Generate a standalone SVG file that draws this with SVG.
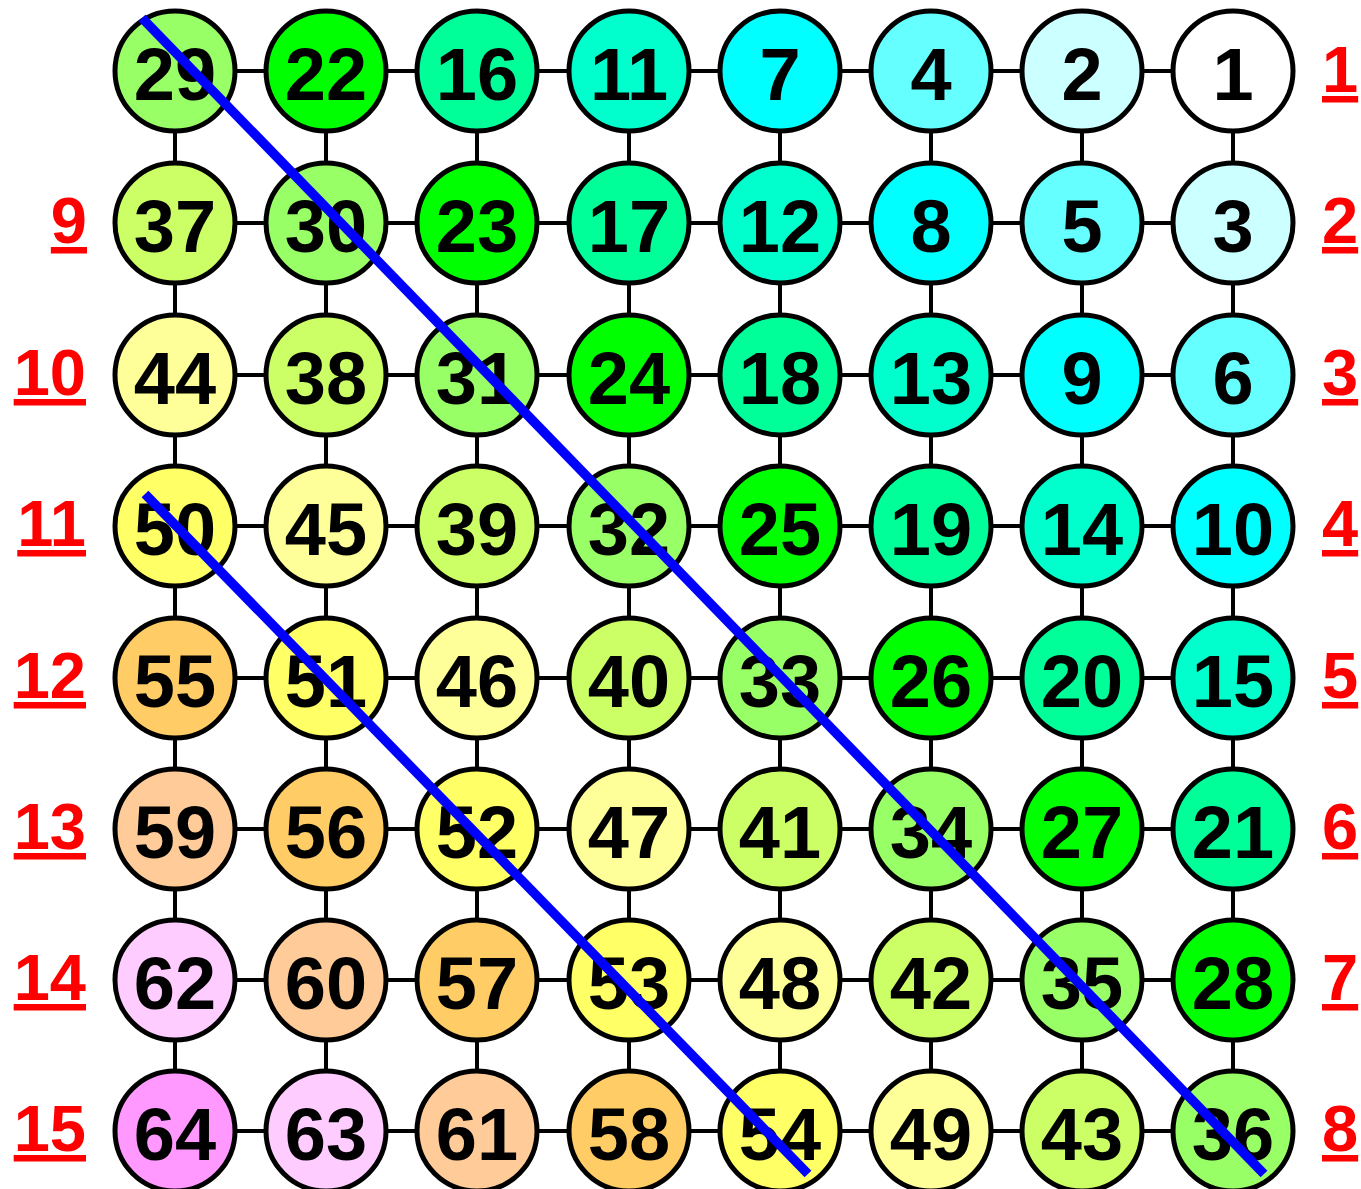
<svg xmlns="http://www.w3.org/2000/svg" width="1361" height="1189" viewBox="0 0 1361 1189">
<style>
.n circle{stroke:#000;stroke-width:5}
.n text{font-family:"Liberation Sans",Arial,sans-serif;font-weight:bold;font-size:74px;text-anchor:middle;fill:#000}
.e line{stroke:#000;stroke-width:4}
.lbl{font-family:"Liberation Sans",Arial,sans-serif;font-weight:bold;font-size:65px;fill:#f00;text-decoration:underline}
.l{text-anchor:end}
.diag{stroke:#00f;stroke-width:9.5;fill:none}
</style>
<rect width="1361" height="1189" fill="#fff"/>
<g id="connectors" class="e">
<line x1="175" y1="71" x2="1233" y2="71"/>
<line x1="175" y1="223" x2="1233" y2="223"/>
<line x1="175" y1="375" x2="1233" y2="375"/>
<line x1="175" y1="526" x2="1233" y2="526"/>
<line x1="175" y1="678" x2="1233" y2="678"/>
<line x1="175" y1="829" x2="1233" y2="829"/>
<line x1="175" y1="980" x2="1233" y2="980"/>
<line x1="175" y1="1131" x2="1233" y2="1131"/>
<line x1="175" y1="71" x2="175" y2="1131"/>
<line x1="326" y1="71" x2="326" y2="1131"/>
<line x1="477" y1="71" x2="477" y2="1131"/>
<line x1="629" y1="71" x2="629" y2="1131"/>
<line x1="780" y1="71" x2="780" y2="1131"/>
<line x1="931" y1="71" x2="931" y2="1131"/>
<line x1="1082" y1="71" x2="1082" y2="1131"/>
<line x1="1233" y1="71" x2="1233" y2="1131"/>
</g>
<g id="nodes">
<g id="n29" class="n"><circle cx="175" cy="71" r="60" fill="#99FF66"/><text x="175" y="100">29</text></g>
<g id="n22" class="n"><circle cx="326" cy="71" r="60" fill="#00FF00"/><text x="326" y="100">22</text></g>
<g id="n16" class="n"><circle cx="477" cy="71" r="60" fill="#00FF99"/><text x="477" y="100">16</text></g>
<g id="n11" class="n"><circle cx="629" cy="71" r="60" fill="#00FFCC"/><text x="629" y="100">11</text></g>
<g id="n7" class="n"><circle cx="780" cy="71" r="60" fill="#00FFFF"/><text x="780" y="100">7</text></g>
<g id="n4" class="n"><circle cx="931" cy="71" r="60" fill="#66FFFF"/><text x="931" y="100">4</text></g>
<g id="n2" class="n"><circle cx="1082" cy="71" r="60" fill="#CCFFFF"/><text x="1082" y="100">2</text></g>
<g id="n1" class="n"><circle cx="1233" cy="71" r="60" fill="#FFFFFF"/><text x="1233" y="100">1</text></g>

<g id="n37" class="n"><circle cx="175" cy="223" r="60" fill="#CCFF66"/><text x="175" y="252">37</text></g>
<g id="n30" class="n"><circle cx="326" cy="223" r="60" fill="#99FF66"/><text x="326" y="252">30</text></g>
<g id="n23" class="n"><circle cx="477" cy="223" r="60" fill="#00FF00"/><text x="477" y="252">23</text></g>
<g id="n17" class="n"><circle cx="629" cy="223" r="60" fill="#00FF99"/><text x="629" y="252">17</text></g>
<g id="n12" class="n"><circle cx="780" cy="223" r="60" fill="#00FFCC"/><text x="780" y="252">12</text></g>
<g id="n8" class="n"><circle cx="931" cy="223" r="60" fill="#00FFFF"/><text x="931" y="252">8</text></g>
<g id="n5" class="n"><circle cx="1082" cy="223" r="60" fill="#66FFFF"/><text x="1082" y="252">5</text></g>
<g id="n3" class="n"><circle cx="1233" cy="223" r="60" fill="#CCFFFF"/><text x="1233" y="252">3</text></g>

<g id="n44" class="n"><circle cx="175" cy="375" r="60" fill="#FFFF99"/><text x="175" y="404">44</text></g>
<g id="n38" class="n"><circle cx="326" cy="375" r="60" fill="#CCFF66"/><text x="326" y="404">38</text></g>
<g id="n31" class="n"><circle cx="477" cy="375" r="60" fill="#99FF66"/><text x="477" y="404">31</text></g>
<g id="n24" class="n"><circle cx="629" cy="375" r="60" fill="#00FF00"/><text x="629" y="404">24</text></g>
<g id="n18" class="n"><circle cx="780" cy="375" r="60" fill="#00FF99"/><text x="780" y="404">18</text></g>
<g id="n13" class="n"><circle cx="931" cy="375" r="60" fill="#00FFCC"/><text x="931" y="404">13</text></g>
<g id="n9" class="n"><circle cx="1082" cy="375" r="60" fill="#00FFFF"/><text x="1082" y="404">9</text></g>
<g id="n6" class="n"><circle cx="1233" cy="375" r="60" fill="#66FFFF"/><text x="1233" y="404">6</text></g>

<g id="n50" class="n"><circle cx="175" cy="526" r="60" fill="#FFFF66"/><text x="175" y="555">50</text></g>
<g id="n45" class="n"><circle cx="326" cy="526" r="60" fill="#FFFF99"/><text x="326" y="555">45</text></g>
<g id="n39" class="n"><circle cx="477" cy="526" r="60" fill="#CCFF66"/><text x="477" y="555">39</text></g>
<g id="n32" class="n"><circle cx="629" cy="526" r="60" fill="#99FF66"/><text x="629" y="555">32</text></g>
<g id="n25" class="n"><circle cx="780" cy="526" r="60" fill="#00FF00"/><text x="780" y="555">25</text></g>
<g id="n19" class="n"><circle cx="931" cy="526" r="60" fill="#00FF99"/><text x="931" y="555">19</text></g>
<g id="n14" class="n"><circle cx="1082" cy="526" r="60" fill="#00FFCC"/><text x="1082" y="555">14</text></g>
<g id="n10" class="n"><circle cx="1233" cy="526" r="60" fill="#00FFFF"/><text x="1233" y="555">10</text></g>

<g id="n55" class="n"><circle cx="175" cy="678" r="60" fill="#FFCC66"/><text x="175" y="707">55</text></g>
<g id="n51" class="n"><circle cx="326" cy="678" r="60" fill="#FFFF66"/><text x="326" y="707">51</text></g>
<g id="n46" class="n"><circle cx="477" cy="678" r="60" fill="#FFFF99"/><text x="477" y="707">46</text></g>
<g id="n40" class="n"><circle cx="629" cy="678" r="60" fill="#CCFF66"/><text x="629" y="707">40</text></g>
<g id="n33" class="n"><circle cx="780" cy="678" r="60" fill="#99FF66"/><text x="780" y="707">33</text></g>
<g id="n26" class="n"><circle cx="931" cy="678" r="60" fill="#00FF00"/><text x="931" y="707">26</text></g>
<g id="n20" class="n"><circle cx="1082" cy="678" r="60" fill="#00FF99"/><text x="1082" y="707">20</text></g>
<g id="n15" class="n"><circle cx="1233" cy="678" r="60" fill="#00FFCC"/><text x="1233" y="707">15</text></g>

<g id="n59" class="n"><circle cx="175" cy="829" r="60" fill="#FFCC99"/><text x="175" y="858">59</text></g>
<g id="n56" class="n"><circle cx="326" cy="829" r="60" fill="#FFCC66"/><text x="326" y="858">56</text></g>
<g id="n52" class="n"><circle cx="477" cy="829" r="60" fill="#FFFF66"/><text x="477" y="858">52</text></g>
<g id="n47" class="n"><circle cx="629" cy="829" r="60" fill="#FFFF99"/><text x="629" y="858">47</text></g>
<g id="n41" class="n"><circle cx="780" cy="829" r="60" fill="#CCFF66"/><text x="780" y="858">41</text></g>
<g id="n34" class="n"><circle cx="931" cy="829" r="60" fill="#99FF66"/><text x="931" y="858">34</text></g>
<g id="n27" class="n"><circle cx="1082" cy="829" r="60" fill="#00FF00"/><text x="1082" y="858">27</text></g>
<g id="n21" class="n"><circle cx="1233" cy="829" r="60" fill="#00FF99"/><text x="1233" y="858">21</text></g>

<g id="n62" class="n"><circle cx="175" cy="980" r="60" fill="#FFCCFF"/><text x="175" y="1009">62</text></g>
<g id="n60" class="n"><circle cx="326" cy="980" r="60" fill="#FFCC99"/><text x="326" y="1009">60</text></g>
<g id="n57" class="n"><circle cx="477" cy="980" r="60" fill="#FFCC66"/><text x="477" y="1009">57</text></g>
<g id="n53" class="n"><circle cx="629" cy="980" r="60" fill="#FFFF66"/><text x="629" y="1009">53</text></g>
<g id="n48" class="n"><circle cx="780" cy="980" r="60" fill="#FFFF99"/><text x="780" y="1009">48</text></g>
<g id="n42" class="n"><circle cx="931" cy="980" r="60" fill="#CCFF66"/><text x="931" y="1009">42</text></g>
<g id="n35" class="n"><circle cx="1082" cy="980" r="60" fill="#99FF66"/><text x="1082" y="1009">35</text></g>
<g id="n28" class="n"><circle cx="1233" cy="980" r="60" fill="#00FF00"/><text x="1233" y="1009">28</text></g>

<g id="n64" class="n"><circle cx="175" cy="1131" r="60" fill="#FF99FF"/><text x="175" y="1160">64</text></g>
<g id="n63" class="n"><circle cx="326" cy="1131" r="60" fill="#FFCCFF"/><text x="326" y="1160">63</text></g>
<g id="n61" class="n"><circle cx="477" cy="1131" r="60" fill="#FFCC99"/><text x="477" y="1160">61</text></g>
<g id="n58" class="n"><circle cx="629" cy="1131" r="60" fill="#FFCC66"/><text x="629" y="1160">58</text></g>
<g id="n54" class="n"><circle cx="780" cy="1131" r="60" fill="#FFFF66"/><text x="780" y="1160">54</text></g>
<g id="n49" class="n"><circle cx="931" cy="1131" r="60" fill="#FFFF99"/><text x="931" y="1160">49</text></g>
<g id="n43" class="n"><circle cx="1082" cy="1131" r="60" fill="#CCFF66"/><text x="1082" y="1160">43</text></g>
<g id="n36" class="n"><circle cx="1233" cy="1131" r="60" fill="#99FF66"/><text x="1233" y="1160">36</text></g>
</g>
<g id="labels">
<text class="lbl" x="1322" y="92">1</text>
<text class="lbl" x="1322" y="243">2</text>
<text class="lbl" x="1322" y="395">3</text>
<text class="lbl" x="1322" y="546">4</text>
<text class="lbl" x="1322" y="698">5</text>
<text class="lbl" x="1322" y="849">6</text>
<text class="lbl" x="1322" y="1000">7</text>
<text class="lbl" x="1322" y="1151">8</text>
<text class="lbl l" x="87" y="243">9</text>
<text class="lbl l" x="86" y="395">10</text>
<text class="lbl l" x="86" y="546">11</text>
<text class="lbl l" x="86" y="698">12</text>
<text class="lbl l" x="86" y="849">13</text>
<text class="lbl l" x="86" y="1000">14</text>
<text class="lbl l" x="86" y="1151">15</text>
</g>
<g id="diagonals">
<line class="diag" x1="142" y1="18" x2="1264" y2="1174"/>
<line class="diag" x1="145" y1="494" x2="808" y2="1174"/>
</g>
</svg>
